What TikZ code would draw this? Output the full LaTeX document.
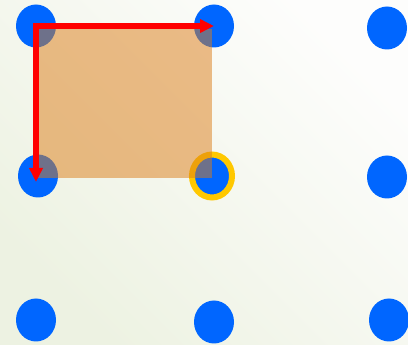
\documentclass[tikz,border=0pt]{standalone}
\usetikzlibrary{shapes.geometric,arrows.meta}
\definecolor{dotblue}{RGB}{0,102,255}
\definecolor{sqorange}{RGB}{220,124,22}
\definecolor{ringyellow}{RGB}{255,200,0}
\definecolor{bggreen}{RGB}{237,242,226}
\definecolor{bgwhite}{RGB}{253,253,252}
\tikzset{
  dot/.style={ellipse, fill=dotblue, draw=none, minimum width=40pt, minimum height=43pt, inner sep=0pt},
  sq/.style={fill=sqorange, fill opacity=0.5},
  ring/.style={draw=ringyellow, line width=6pt},
  redarrow/.style={draw=red, line width=6pt, line cap=rect, -{Triangle[length=14pt,width=13pt]}}
}
\begin{document}
\begin{tikzpicture}[x=1pt,y=-1pt]
\useasboundingbox (0,0) rectangle (408,345);
\shade[top color=bgwhite, bottom color=bggreen, shading angle=-45] (0,0) rectangle (408,345);
\node[dot] (tl) at (36,26) {};
\node[dot] (tm) at (214,26) {};
\node[dot] (tr) at (387,28) {};
\node[dot] (ml) at (38,176) {};
\node[dot] (mm) at (212,176) {};
\node[dot] (mr) at (387,177) {};
\node[dot] (bl) at (36,320) {};
\node[dot] (bm) at (214,322) {};
\node[dot] (br) at (389,320) {};
\draw[ring] (mm.center) ellipse [x radius=20, y radius=21.5];
\fill[sq] (37,29.5) rectangle (212,178);
\draw[redarrow] (tl.center) -- (tm.center);
\draw[redarrow, shorten >=-6pt] (tl.center) -- (tl.center |- ml.center);
\end{tikzpicture}
\end{document}
